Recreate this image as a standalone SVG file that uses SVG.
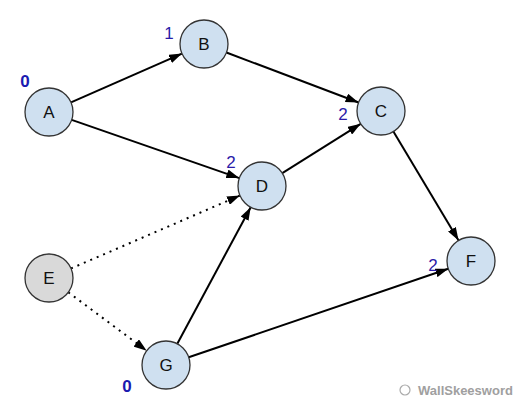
<svg xmlns="http://www.w3.org/2000/svg" width="526" height="411" viewBox="0 0 526 411">
<defs>
<marker id="arr" viewBox="0 0 13 9" refX="13" refY="4.5" markerWidth="13" markerHeight="9" markerUnits="userSpaceOnUse" orient="auto">
<path d="M0,0 L13,4.5 L0,9 z" fill="#000"/>
</marker>
<style>
.edge{stroke:#000;stroke-width:2;fill:none;marker-end:url(#arr)}
.dot{stroke-dasharray:2 5}
.node circle{fill:#cfe0f0;stroke:#333;stroke-width:1.3}
.node.gray circle{fill:#d9d9d9}
.node text{font-family:"Liberation Sans",Arial,sans-serif;font-size:17px;fill:#111;text-anchor:middle;dominant-baseline:central}
.num{font-family:"Liberation Sans",Arial,sans-serif;font-size:17px;fill:#2a1aa8;text-anchor:middle;dominant-baseline:central}
.b{font-weight:bold;fill:#1a1ab0}
.wm{font-family:"Liberation Sans",Arial,sans-serif;font-size:13px;font-weight:bold;fill:#a0a0a0}
</style>
</defs>
<rect width="526" height="411" fill="#fff"/>
<g id="connectors">
<line class="edge" x1="71.0" y1="102.4" x2="182.0" y2="53.6"/>
<line class="edge" x1="71.7" y1="119.9" x2="239.3" y2="178.1"/>
<line class="edge" x1="226.4" y1="52.5" x2="358.6" y2="102.5"/>
<line class="edge" x1="282.3" y1="173.2" x2="360.7" y2="123.8"/>
<line class="edge" x1="393.4" y1="131.6" x2="458.6" y2="240.4"/>
<line class="edge dot" x1="71.0" y1="268.5" x2="240.0" y2="195.5"/>
<line class="edge dot" x1="68.3" y1="292.3" x2="146.7" y2="350.7"/>
<line class="edge" x1="177.3" y1="343.8" x2="250.7" y2="207.2"/>
<line class="edge" x1="188.7" y1="357.3" x2="448.3" y2="268.7"/>
</g>
<g id="node-A" class="node"><circle cx="49" cy="112" r="24"/><text x="49" y="112">A</text></g>
<g id="node-B" class="node"><circle cx="204" cy="44" r="24"/><text x="204" y="44">B</text></g>
<g id="node-C" class="node"><circle cx="381" cy="111" r="24"/><text x="381" y="111">C</text></g>
<g id="node-D" class="node"><circle cx="262" cy="186" r="24"/><text x="262" y="186">D</text></g>
<g id="node-E" class="node gray"><circle cx="49" cy="278" r="24"/><text x="49" y="278">E</text></g>
<g id="node-F" class="node"><circle cx="471" cy="261" r="24"/><text x="471" y="261">F</text></g>
<g id="node-G" class="node"><circle cx="166" cy="365" r="24"/><text x="166" y="365">G</text></g>
<g id="labels">
<text class="num b" x="25" y="81">0</text>
<text class="num" x="169" y="33">1</text>
<text class="num" x="231" y="162">2</text>
<text class="num" x="343" y="114">2</text>
<text class="num" x="433" y="265">2</text>
<text class="num b" x="127" y="386">0</text>
</g>
<g id="watermark">
<circle cx="405" cy="390" r="5" fill="none" stroke="#aaa" stroke-width="1.2"/>
<text class="wm" x="418" y="395">WallSkeesword</text>
</g>
</svg>
